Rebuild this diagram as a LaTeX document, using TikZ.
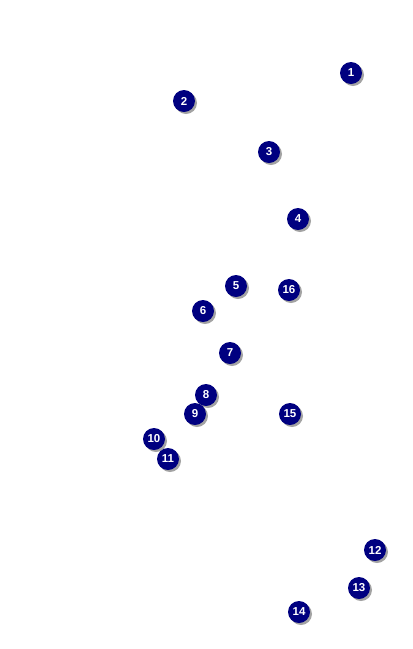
\documentclass[tikz,border=0pt]{standalone}
\usepackage{fontspec}
\setmainfont{Liberation Sans}
\usetikzlibrary{shadows}
\definecolor{markerblue}{HTML}{000080}
\tikzset{
  marker/.style={circle, fill=markerblue, minimum size=22pt, inner sep=0pt,
    text=white, font=\bfseries\fontsize{11.5}{13}\selectfont,
    drop shadow={shadow xshift=2pt, shadow yshift=-2pt, fill=gray!80, opacity=0.9}}
}
\begin{document}
\begin{tikzpicture}[x=1pt,y=-1pt]
\useasboundingbox (0,0) rectangle (413,649);
\foreach \n/\x/\y in {1/351/73,2/184/101,3/269/152,4/298/219,5/236/286,16/289/290,6/203/311,7/230/353,8/206/395,9/195/414,15/290/414,10/154/439,11/168/459,12/375/550,13/359/588,14/299/612}{
\node[marker] (m\n) at (\x,\y) {\n};
}
\end{tikzpicture}
\end{document}
